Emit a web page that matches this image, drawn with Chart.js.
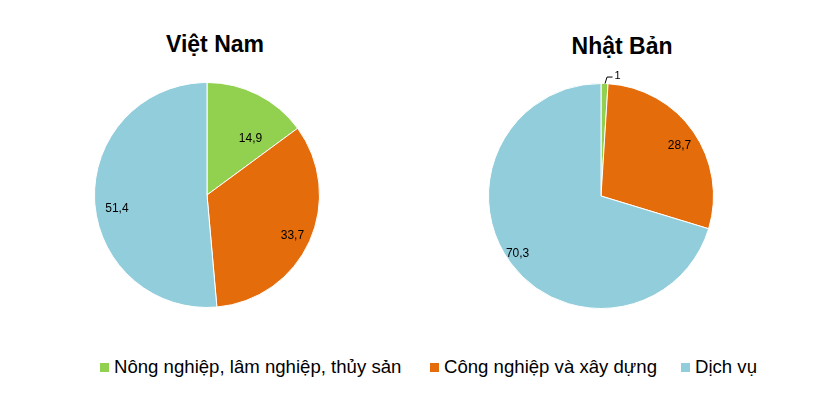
<!DOCTYPE html>
<html>
<head>
<meta charset="utf-8">
<script src="https://cdn.jsdelivr.net/npm/chart.js@4"></script>
<style>
  body { margin: 0; background: #fff; width: 819px; height: 414px; position: relative; overflow: hidden; font-family: "Liberation Sans", Arial, sans-serif; }
  .title { position: absolute; font-weight: bold; font-size: 23px; color: #000; text-align: center; width: 200px; }
  .box { position: absolute; width: 280px; height: 280px; }
  .legend { position: absolute; top: 356px; left: 0; font-size: 18.6px; color: #000; }
  .legend span.item { position: absolute; white-space: nowrap; }
  .legend i { display: inline-block; width: 9px; height: 9px; margin-right: 5px; vertical-align: 1px; }
</style>
</head>
<body>
<div class="title" style="left:115px; top:31px;">Việt Nam</div>
<div class="title" style="left:522px; top:33px;">Nhật Bản</div>
<div class="box" style="left:67px; top:55px;"><canvas id="vn"></canvas></div>
<div class="box" style="left:461px; top:56px;"><canvas id="jp"></canvas></div>
<div class="legend" id="legend"></div>
<script>
// cơ cấu GDP (%)
const sectors = ['Nông nghiệp, lâm nghiệp, thủy sản', 'Công nghiệp và xây dựng', 'Dịch vụ'];
const vietNam = [14.9, 33.7, 51.4];
const nhatBan = [1, 28.7, 70.3];
const colors = ['#92D050', '#E46C0A', '#92CDDC'];
const legendX = [100, 430, 681];

function fmt(v) {
  return String(v).replace('.', ',');
}

// nhãn giá trị trên lát bánh
const valueLabels = {
  id: 'valueLabels',
  afterDatasetsDraw(chart, args, opts) {
    const ctx = chart.ctx;
    const meta = chart.getDatasetMeta(0);
    const data = chart.data.datasets[0].data;
    ctx.save();
    ctx.font = '12px "Liberation Sans", Arial, sans-serif';
    ctx.fillStyle = '#000';
    ctx.textAlign = 'center';
    ctx.textBaseline = 'middle';
    meta.data.forEach((arc, i) => {
      const mid = (arc.startAngle + arc.endAngle) / 2;
      const r = arc.outerRadius;
      if (data[i] < 3) {
        // lát nhỏ: nhãn ngoài với đường dẫn
        const x0 = arc.x + Math.cos(mid) * r;
        const y0 = arc.y + Math.sin(mid) * r;
        const x1 = x0 + 2, y1 = y0 - 7;
        ctx.strokeStyle = '#000';
        ctx.lineWidth = 1;
        ctx.beginPath();
        ctx.moveTo(x0 + 0.5, y0);
        ctx.lineTo(x1 + 0.5, y1 + 0.5);
        ctx.lineTo(x1 + 6, y1 + 0.5);
        ctx.stroke();
        ctx.textAlign = 'left';
        ctx.font = '11px "Liberation Sans", Arial, sans-serif';
        ctx.fillText(fmt(data[i]), x1 + 8, y1 - 1);
        ctx.font = '12px "Liberation Sans", Arial, sans-serif';
        ctx.textAlign = 'center';
        return;
      }
      const p = (opts.place || [])[i] || [0.8, 0];
      const a = mid + p[1] * Math.PI / 180;
      ctx.fillText(fmt(data[i]), arc.x + Math.cos(a) * r * p[0], arc.y + Math.sin(a) * r * p[0]);
    });
    ctx.restore();
  }
};

function makePie(id, values, place) {
  return new Chart(document.getElementById(id), {
    type: 'pie',
    data: {
      labels: sectors,
      datasets: [{
        data: values,
        backgroundColor: colors,
        borderColor: '#fff',
        borderWidth: 1
      }]
    },
    options: {
      responsive: true,
      maintainAspectRatio: false,
      animation: false,
      layout: { padding: 27 },
      plugins: {
        legend: { display: false },
        tooltip: { enabled: false },
        valueLabels: { place: place }
      }
    },
    plugins: [valueLabels]
  });
}

// [hệ số bán kính, lệch góc] cho từng nhãn
makePie('vn', vietNam, [[0.63, 11], [0.84, 1], [0.81, -6]]);
makePie('jp', nhatBan, [[0.8, 0], [0.83, 2], [0.9, 2]]);

const legend = document.getElementById('legend');
sectors.forEach((s, i) => {
  const el = document.createElement('span');
  el.className = 'item';
  el.style.left = legendX[i] + 'px';
  el.innerHTML = '<i style="background:' + colors[i] + '"></i>' + s;
  legend.appendChild(el);
});
</script>
</body>
</html>
